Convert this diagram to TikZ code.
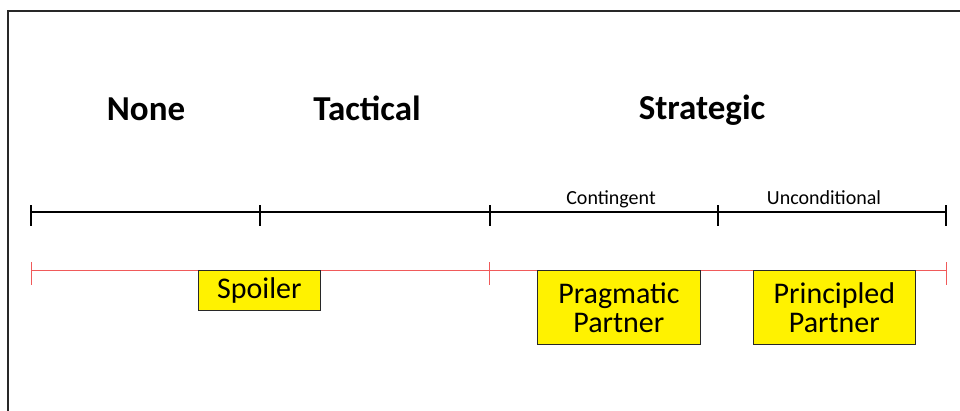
\documentclass[tikz,border=0pt]{standalone}
\usepackage{fontspec}
\setmainfont{Carlito}
\definecolor{boxyellow}{RGB}{255,242,0}
\definecolor{scalered}{RGB}{240,90,90}
\definecolor{framegray}{RGB}{40,40,40}
\begin{document}
\begin{tikzpicture}[x=1pt,y=-1pt,
  title/.style={font=\fontsize{35}{40}\selectfont\bfseries, inner sep=0pt},
  sublabel/.style={font=\fontsize{20}{22}\selectfont, inner sep=0pt},
  box/.style={draw=framegray, line width=0.8pt, fill=boxyellow, font=\fontsize{30}{30}\selectfont, align=center, inner sep=0pt},
  blackaxis/.style={line width=2pt, black},
  redaxis/.style={line width=1pt, scalered}]
\useasboundingbox (0,0) rectangle (960,410);
\draw[framegray, line width=1.6pt] (8,412) -- (8,11) -- (962,11);
% titles
\node[title, anchor=base] (none) at (146,120) {None};
\node[title, anchor=base] (tact) at (367,120) {Tactical};
\node[title, anchor=base] (strat) at (702,119) {Strategic};
% black scale
\coordinate (b0) at (31,212);
\coordinate (b1) at (260,212);
\coordinate (b2) at (490,212);
\coordinate (b3) at (718,212);
\coordinate (b4) at (946,212);
\draw[blackaxis] (b0) -- (b4);
\foreach \p in {b0,b1,b2,b3,b4}
  \draw[blackaxis] ([yshift=7]\p) -- ([yshift=-14]\p);
\node[sublabel, anchor=base] (cont) at (611,204) {Contingent};
\node[sublabel, anchor=base] (uncond) at (824,204) {Unconditional};
% red scale
\coordinate (r0) at (31,270);
\coordinate (r1) at (489,270);
\coordinate (r2) at (946,270);
\draw[redaxis] (r0) -- (r2);
\foreach \p in {r0,r1,r2}
  \draw[redaxis] ([yshift=8]\p) -- ([yshift=-15]\p);
% boxes
\node[box, minimum width=122, minimum height=40, anchor=north west] (spoiler) at (198,270) {Spoiler};
\node[box, minimum width=163, minimum height=74, anchor=north west] (prag) at (537,270) {Pragmatic\\[-1pt]Partner};
\node[box, minimum width=162, minimum height=74, anchor=north west] (princ) at (753,270) {Principled\\[-1pt]Partner};
\end{tikzpicture}
\end{document}
